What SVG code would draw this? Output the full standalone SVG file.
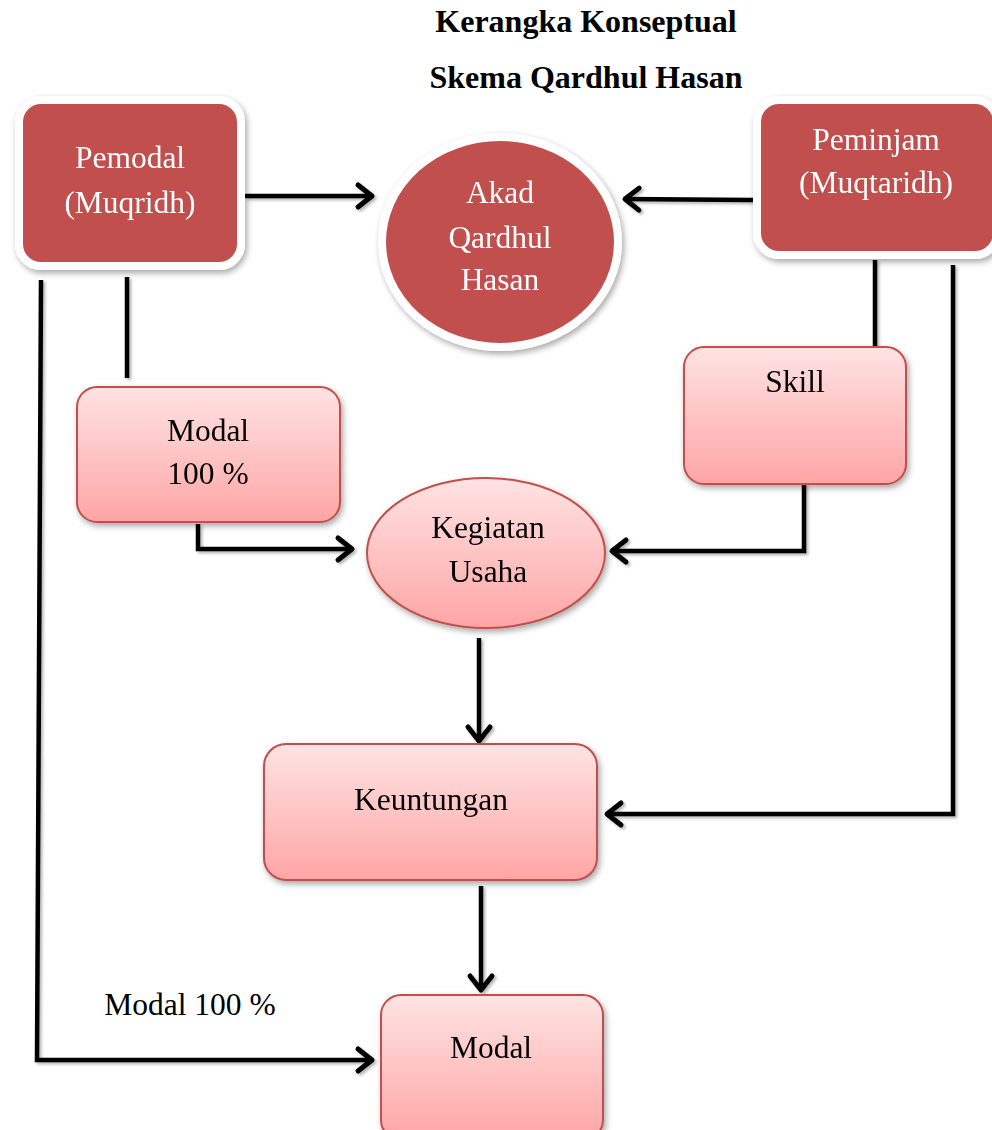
<svg xmlns="http://www.w3.org/2000/svg" width="992" height="1130" viewBox="0 0 992 1130">
<defs>
<linearGradient id="pink" x1="0" y1="0" x2="0" y2="1">
<stop offset="0" stop-color="#FFE3E3"/>
<stop offset="1" stop-color="#FFA5A5"/>
</linearGradient>
<filter id="sh" x="-10%" y="-10%" width="125%" height="125%">
<feGaussianBlur in="SourceAlpha" stdDeviation="3"/>
<feOffset dx="2" dy="3" result="b"/>
<feComponentTransfer><feFuncA type="linear" slope="0.35"/></feComponentTransfer>
<feMerge><feMergeNode/><feMergeNode in="SourceGraphic"/></feMerge>
</filter>
<filter id="lsh" x="-10%" y="-10%" width="120%" height="120%">
<feGaussianBlur in="SourceAlpha" stdDeviation="1.5"/>
<feOffset dx="2" dy="2"/>
<feComponentTransfer><feFuncA type="linear" slope="0.3"/></feComponentTransfer>
<feMerge><feMergeNode/><feMergeNode in="SourceGraphic"/></feMerge>
</filter>
<marker id="arr" markerUnits="userSpaceOnUse" markerWidth="24" markerHeight="30" viewBox="-18 -15 24 30" refX="0" refY="0" orient="auto">
<path d="M-14,-11 L0,0 L-14,11" fill="none" stroke="#000" stroke-width="5" stroke-linecap="round" stroke-linejoin="round"/>
</marker>
<style>
.title{font-family:"Liberation Serif",serif;font-weight:bold;font-size:32px;fill:#000}
.wt{font-family:"Liberation Serif",serif;font-size:31.5px;fill:#fff}
.bt{font-family:"Liberation Serif",serif;font-size:31.5px;fill:#000}
.red{fill:#C0504D;stroke:#fff;stroke-width:8}
.pk{fill:url(#pink);stroke:#C0504D;stroke-width:2}
.ln{fill:none;stroke:#000;stroke-width:4.5;stroke-linecap:butt;stroke-linejoin:miter}
</style>
</defs>
<rect width="992" height="1130" fill="#fff"/>

<text class="title" x="586" y="32" text-anchor="middle">Kerangka Konseptual</text>
<text class="title" x="586" y="88" text-anchor="middle">Skema Qardhul Hasan</text>

<g id="connectors" filter="url(#lsh)">
<line class="ln" x1="245" y1="196" x2="372" y2="196" marker-end="url(#arr)"/>
<line class="ln" x1="753" y1="200" x2="625" y2="199" marker-end="url(#arr)"/>
<line class="ln" x1="127" y1="277" x2="127" y2="378"/>
<polyline class="ln" points="198,524 198,549 352,549" marker-end="url(#arr)"/>
<line class="ln" x1="875" y1="260" x2="875" y2="347"/>
<polyline class="ln" points="804,484 804,551 612,551" marker-end="url(#arr)"/>
<polyline class="ln" points="953,265 953,814 607,814" marker-end="url(#arr)"/>
<line class="ln" x1="479" y1="638" x2="479" y2="741" marker-end="url(#arr)"/>
<line class="ln" x1="481" y1="886" x2="481" y2="990" marker-end="url(#arr)"/>
<polyline class="ln" points="41,280 37,1060 372,1060" marker-end="url(#arr)"/>
</g>

<g id="pemodal" filter="url(#sh)">
<rect class="red" x="19" y="100" width="222" height="166" rx="22"/>
<text class="wt" x="130" y="168" text-anchor="middle">Pemodal</text>
<text class="wt" x="130" y="213" text-anchor="middle">(Muqridh)</text>
</g>

<g id="peminjam" filter="url(#sh)">
<rect class="red" x="757" y="100" width="240" height="155" rx="22"/>
<text class="wt" x="876" y="150" text-anchor="middle">Peminjam</text>
<text class="wt" x="876" y="193" text-anchor="middle">(Muqtaridh)</text>
</g>

<g id="akad" filter="url(#sh)">
<ellipse class="red" cx="500" cy="242" rx="118" ry="105"/>
<text class="wt" x="500" y="203" text-anchor="middle">Akad</text>
<text class="wt" x="500" y="248" text-anchor="middle">Qardhul</text>
<text class="wt" x="500" y="290" text-anchor="middle">Hasan</text>
</g>

<g id="modal100" filter="url(#sh)">
<rect class="pk" x="77" y="387" width="263" height="135" rx="20"/>
<text class="bt" x="208" y="441" text-anchor="middle">Modal</text>
<text class="bt" x="208" y="484" text-anchor="middle">100 %</text>
</g>

<g id="skill" filter="url(#sh)">
<rect class="pk" x="684" y="347" width="222" height="137" rx="20"/>
<text class="bt" x="795" y="392" text-anchor="middle">Skill</text>
</g>

<g id="kegiatan" filter="url(#sh)">
<ellipse class="pk" cx="486" cy="553" rx="119" ry="75"/>
<text class="bt" x="488" y="538" text-anchor="middle">Kegiatan</text>
<text class="bt" x="488" y="582" text-anchor="middle">Usaha</text>
</g>

<g id="keuntungan" filter="url(#sh)">
<rect class="pk" x="264" y="744" width="333" height="136" rx="22"/>
<text class="bt" x="431" y="810" text-anchor="middle">Keuntungan</text>
</g>

<g id="modal" filter="url(#sh)">
<rect class="pk" x="381" y="995" width="222" height="145" rx="20"/>
<text class="bt" x="491" y="1058" text-anchor="middle">Modal</text>
</g>

<text class="bt" x="190" y="1015" text-anchor="middle">Modal 100 %</text>
</svg>
